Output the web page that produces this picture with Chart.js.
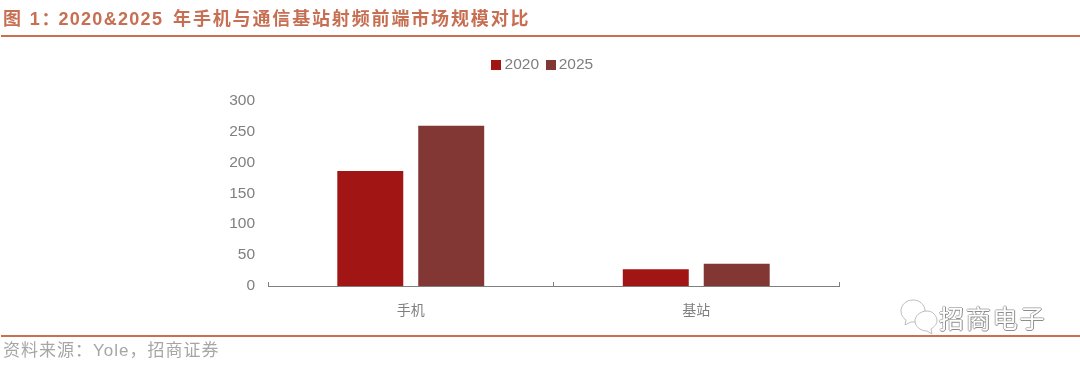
<!DOCTYPE html>
<html lang="zh-CN">
<head>
<meta charset="utf-8">
<title>2020&2025 手机与通信基站射频前端市场规模对比</title>
<script src="https://cdn.jsdelivr.net/npm/chart.js@4/dist/chart.umd.min.js"></script>
<style>
  html, body { margin: 0; background: #fff; }
  #page { position: relative; width: 1080px; height: 365px; overflow: hidden; }
  #chart { position: absolute; left: 0; top: 0; }
  .rule { position: absolute; left: 1px; right: 0; height: 2px; background: #c9704f; }
  #heading {
    position: absolute; left: 3px; top: 4px; white-space: nowrap;
    font: bold 18px "Liberation Sans", "Noto Sans CJK SC", sans-serif;
    letter-spacing: 1.85px; color: #c76f52;
  }
  #heading span { letter-spacing: 1.3px; margin: 0 3px 0 -3px; }
  #source {
    position: absolute; left: 3px; top: 336px; white-space: nowrap;
    font: 17px "Liberation Sans", "Noto Sans CJK SC", sans-serif;
    letter-spacing: 1px; color: #a6a6a6;
  }
  #mark {
    position: absolute; left: 939px; top: 299px; white-space: nowrap;
    font: 25px "Noto Sans CJK SC", sans-serif; letter-spacing: 1.8px;
    color: #fff; text-shadow: 1px 0 0 #8c8c8c, 0 1px 0 #8c8c8c, -1px 0 0 #bbb, 0 -1px 0 #bbb;
  }
  #bubbles { position: absolute; left: 893px; top: 298px; }
</style>
</head>
<body>
<div id="page">
  <canvas id="chart" width="1080" height="365"></canvas>
  <div id="heading">图 1：<span>2020&amp;2025</span> 年手机与通信基站射频前端市场规模对比</div>
  <div class="rule" style="top:35px"></div>
  <svg id="bubbles" width="50" height="40" viewBox="0 0 50 40" fill="#fff" stroke="#bdbdbd">
    <path d="M20 2c-7 0-12 5-12 11 0 4 2 7 5 9l-1 5 6-3c1 0 2 0 3 0 7 0 11-5 11-11S27 2 20 2z"/>
    <path d="M34 13c-7 0-12 5-12 10s5 10 12 10l5 3-1-5c3-2 6-5 6-8 0-5-4-10-10-10z"/>
  </svg>
  <div id="mark">招商电子</div>
  <div class="rule" style="top:335px"></div>
  <div id="source">资料来源：Yole，招商证券</div>
</div>
<script>
// ====== DATA ======
const categories = ["手机", "基站"];
const seriesNames = ["2020", "2025"];
const values2020 = [186, 27];
const values2025 = [259, 36];
const yTicks = [0, 50, 100, 150, 200, 250, 300];

const colors = ["#a11614", "#823735"];
const GRAY = "#7f7f7f";

// legend square as a canvas, so the label sits close to it like in the original
function legendMarker(color) {
  const c = document.createElement("canvas");
  c.width = 10;
  c.height = 10;
  const g = c.getContext("2d");
  g.fillStyle = color;
  g.fillRect(0, 0, 10, 10);
  return c;
}

// extra room under the legend
const legendGap = {
  id: "legendGap",
  beforeInit(chart) {
    const fit = chart.legend.fit;
    chart.legend.fit = function () {
      fit.bind(chart.legend)();
      this.height += 18;
    };
  }
};

new Chart(document.getElementById("chart"), {
  type: "bar",
  data: {
    labels: categories,
    datasets: [
      { label: seriesNames[0], data: values2020, backgroundColor: colors[0], pointStyle: legendMarker(colors[0]) },
      { label: seriesNames[1], data: values2025, backgroundColor: colors[1], pointStyle: legendMarker(colors[1]) }
    ]
  },
  plugins: [legendGap],
  options: {
    responsive: false,
    animation: false,
    devicePixelRatio: 1,
    layout: { padding: { left: 225, right: 216, top: 46, bottom: 0 } },
    datasets: { bar: { barPercentage: 0.815, categoryPercentage: 0.567 } },
    plugins: {
      tooltip: { enabled: false },
      legend: {
        position: "top",
        labels: {
          usePointStyle: true,
          pointStyleWidth: 1,
          padding: 11,
          color: GRAY,
          font: { family: "'Liberation Sans'", size: 15.5 }
        }
      }
    },
    scales: {
      x: {
        afterFit(scale) { scale.height = 79; },
        border: { color: GRAY, width: 1 },
        grid: { drawOnChartArea: false, tickLength: -4, color: GRAY },
        ticks: {
          padding: 19,
          maxRotation: 0,
          color: GRAY,
          font: { family: "'Noto Sans CJK SC'", size: 14 }
        }
      },
      y: {
        min: 0,
        max: 300,
        afterFit(scale) { scale.width = 43; },
        afterBuildTicks(scale) { scale.ticks = yTicks.map(v => ({ value: v })); },
        border: { display: false },
        grid: { display: false, drawTicks: false },
        ticks: {
          padding: 13,
          color: GRAY,
          font: { family: "'Liberation Sans'", size: 15.5 }
        }
      },
      // empty axis, only keeps the plot clear of the right side so the legend stays centred
      spacer: {
        type: "linear",
        position: "right",
        afterFit(scale) { scale.width = 25; },
        border: { display: false },
        grid: { display: false },
        ticks: { display: false }
      }
    }
  }
});
</script>
</body>
</html>
